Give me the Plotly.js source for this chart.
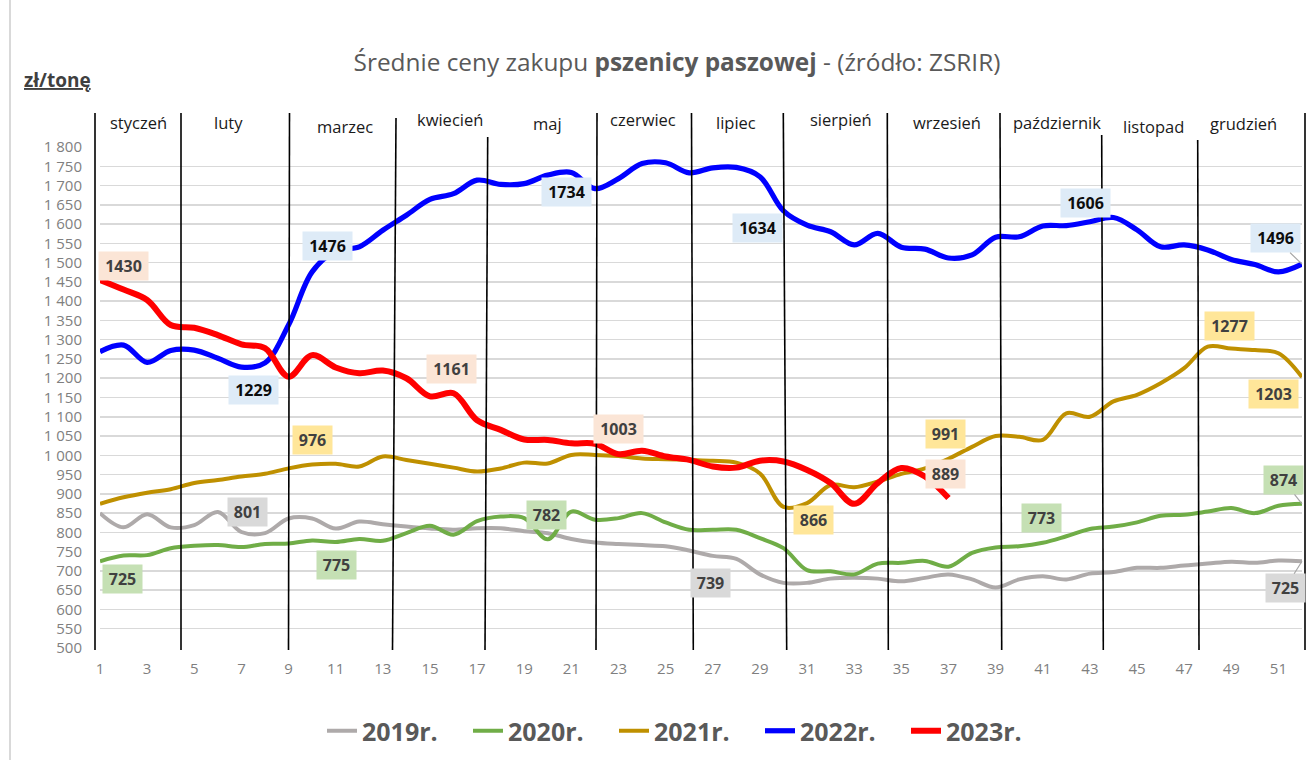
<!DOCTYPE html>
<html>
<head>
<meta charset="utf-8">
<script src="https://cdn.plot.ly/plotly-3.0.1.min.js"></script>
<style>
  html, body { margin: 0; padding: 0; background: #ffffff; }
  #chart { width: 1307px; height: 760px; }
</style>
</head>
<body>
<div id="chart"></div>
<script>
// ---------------- DATA ----------------
const weeks = [1,2,3,4,5,6,7,8,9,10,11,12,13,14,15,16,17,18,19,20,21,22,23,24,25,26,
               27,28,29,30,31,32,33,34,35,36,37,38,39,40,41,42,43,44,45,46,47,48,49,50,51,52];

const seriesNames = ["2019r.", "2020r.", "2021r.", "2022r.", "2023r."];

const y2019 = [850,813,847,813,819,853,801,798,836,836,
               810,828,821,815,810,807,811,811,803,798,
               783,774,770,767,764,753,739,731,691,669,
               669,680,682,680,673,682,691,678,657,678,
               686,678,693,697,708,708,714,719,724,721,
               727,725];

const y2020 = [725,740,741,759,765,767,762,770,771,779,
               775,783,778,798,817,794,829,841,837,782,
               854,833,837,850,826,807,807,807,785,759,
               702,699,691,719,721,726,711,747,761,764,
               773,790,809,815,826,843,846,854,863,850,
               869,874];

const y2021 = [874,891,903,912,928,936,945,952,966,976,
               978,971,997,988,978,968,958,966,981,979,
               1001,1001,998,992,990,988,986,981,953,866,
               876,923,917,932,952,966,991,1022,1050,1048,
               1040,1109,1100,1140,1157,1187,1226,1282,1277,1273,
               1265,1203];

const y2022 = [1269,1286,1241,1272,1273,1252,1229,1240,1338,1476,
               1530,1541,1584,1623,1664,1679,1714,1703,1705,1727,
               1734,1692,1718,1757,1759,1733,1746,1747,1723,1634,
               1597,1580,1546,1576,1540,1535,1512,1520,1566,1567,
               1595,1596,1606,1617,1585,1541,1546,1533,1508,1495,
               1476,1496];

const y2023 = [1455,1430,1403,1338,1331,1312,1288,1278,1204,1260,
               1228,1213,1220,1200,1153,1161,1091,1066,1041,1040,
               1031,1030,1003,1012,997,988,971,968,986,984,
               962,928,874,928,967,945,889];

const months = ["styczeń","luty","marzec","kwiecień","maj","czerwiec",
                "lipiec","sierpień","wrzesień","październik","listopad","grudzień"];

const yTicks = [500,550,600,650,700,750,800,850,900,950,1000,1050,1100,1150,
                1200,1250,1300,1350,1400,1450,1500,1550,1600,1650,1700,1750,1800];
const xTicks = [1,3,5,7,9,11,13,15,17,19,21,23,25,27,29,31,33,35,37,39,41,43,45,47,49,51];

// data labels: series index, week, shown text
const dataLabels = [
  {s:4, w:2,  t:"1430"}, {s:3, w:10, t:"1476"}, {s:3, w:7,  t:"1229"},
  {s:3, w:21, t:"1734"}, {s:3, w:30, t:"1634"}, {s:3, w:43, t:"1606"},
  {s:3, w:52, t:"1496"}, {s:4, w:16, t:"1161"}, {s:4, w:23, t:"1003"},
  {s:4, w:37, t:"889"},  {s:2, w:10, t:"976"},  {s:2, w:30, t:"866"},
  {s:2, w:37, t:"991"},  {s:2, w:49, t:"1277"}, {s:2, w:52, t:"1203"},
  {s:0, w:7,  t:"801"},  {s:0, w:27, t:"739"},  {s:0, w:52, t:"725"},
  {s:1, w:1,  t:"725"},  {s:1, w:11, t:"775"},  {s:1, w:20, t:"782"},
  {s:1, w:41, t:"773"},  {s:1, w:52, t:"874"}
];

// ---------------- STYLE ----------------
const allY = [y2019, y2020, y2021, y2022, y2023];
const lineColors = ["#AEAAAA", "#70AD47", "#BF9000", "#0000FF", "#FF0000"];
const lineWidths = [4, 4, 4, 5.2, 6];
const boxColors  = ["#D9D9D9", "#C5E0B4", "#FFE699", "#DEEBF7", "#FBE5D6"];
const textColors = ["#404040", "#404040", "#404040", "#0d0d0d", "#404040"];

// pixel offsets of label centres relative to their data point
const labelOffsets = {
  "4-2": [0,-24], "3-10": [15,-26], "3-7": [12,23], "3-21": [-5,20], "3-30": [-26,17],
  "3-43": [-4,-19], "3-52": [-27,-26], "4-16": [-2,-24], "4-23": [0,-25], "4-37": [-3,-24],
  "2-10": [0,-25], "2-30": [30,13], "2-37": [-3,-25], "2-49": [-2,-23], "2-52": [-29,17],
  "0-7": [6,-20], "0-27": [-2,27], "0-52": [-17,27], "1-1": [22,18], "1-11": [1,23],
  "1-20": [-1,-24], "1-41": [-1,-25], "1-52": [-19,-24]
};

const traces = allY.map((ys, i) => ({
  type: "scatter",
  mode: "lines",
  name: seriesNames[i],
  x: weeks.slice(0, ys.length),
  y: ys,
  line: {color: lineColors[i], width: lineWidths[i], shape: "spline", smoothing: 1},
  hoverinfo: "x+y+name"
}));

// plot area geometry (px) used for decorations
const PL = 100, PR = 1302, PT = 147, PB = 648;
const px2paperX = px => (px - PL) / (PR - PL);
const px2paperY = py => (PB - py) / (PB - PT);

// month separator lines: [x top, x bottom, y top] in px
const sepLines = [
  [95,95,113],[181,181,113],[289.5,288.5,113],[396,392.5,118],[487.7,485,137],
  [597,596,113],[691.5,693.3,113],[783.3,786.7,113],[887.3,888.3,113],
  [1000,1001.7,113],[1101.7,1103.3,135],[1197.7,1199,140],[1305,1305,113]
];
const monthPos = [[138,122],[228,122],[345,126],[450,119],[547,124],[643,119],
                  [736,122],[841,119],[947,122],[1057,122],[1153,126],[1243,123]];

const shapes = sepLines.map(l => ({
  type: "line", xref: "paper", yref: "paper",
  x0: px2paperX(l[0]), x1: px2paperX(l[1]),
  y0: px2paperY(l[2]), y1: px2paperY(650),
  line: {color: "#000000", width: 1.6}
}));
// outer chart border (left edge)
shapes.push({type: "line", xref: "paper", yref: "paper",
  x0: px2paperX(10), x1: px2paperX(10), y0: px2paperY(762), y1: px2paperY(-2),
  line: {color: "#D9D9D9", width: 2}});

const annotations = [];
months.forEach((m, i) => {
  annotations.push({
    xref: "paper", yref: "paper",
    x: px2paperX(monthPos[i][0]), y: px2paperY(monthPos[i][1]),
    xanchor: "center", yanchor: "middle", showarrow: false,
    text: m, font: {family: "Open Sans, sans-serif", size: 16.5, color: "#1a1a1a"}
  });
});

dataLabels.forEach(d => {
  const ys = allY[d.s];
  const off = labelOffsets[d.s + "-" + d.w];
  const withArrow = (d.w === 52 && d.s !== 2);
  annotations.push({
    xref: "x", yref: "y", x: d.w, y: ys[d.w - 1],
    ax: off[0], ay: off[1], axref: "pixel", ayref: "pixel",
    showarrow: true,
    arrowhead: 0, arrowwidth: 1.2,
    arrowcolor: withArrow ? "#A6A6A6" : "rgba(0,0,0,0)",
    standoff: 0, startstandoff: 0,
    text: "<b>" + d.t + "</b>",
    width: d.t.length * 10 + 9, height: 28,
    bgcolor: boxColors[d.s], borderpad: 0,
    font: {family: "Open Sans, sans-serif", size: 16, color: textColors[d.s]}
  });
});

// unit label
annotations.push({
  xref: "paper", yref: "paper", x: px2paperX(22), y: px2paperY(80),
  xanchor: "left", yanchor: "middle", showarrow: false,
  text: "<b><u>zł/tonę</u></b>",
  font: {family: "Open Sans, sans-serif", size: 19, color: "#404040"}
});

const layout = {
  width: 1307, height: 760,
  paper_bgcolor: "#ffffff", plot_bgcolor: "#ffffff",
  separators: ", ",
  margin: {l: PL, r: 1307 - PR, t: PT, b: 760 - PB, pad: 0},
  title: {
    text: "Średnie ceny zakupu <b>pszenicy paszowej</b> - (źródło: ZSRIR)",
    x: 677 / 1307, xanchor: "center", xref: "container",
    y: 1 - 62 / 760, yanchor: "middle", yref: "container",
    font: {family: "Open Sans, sans-serif", size: 24.4, color: "#595959"}
  },
  xaxis: {
    range: [1, 52], tickmode: "array", tickvals: xTicks, ticktext: xTicks.map(String),
    showgrid: false, zeroline: false, showline: false, ticks: "",
    ticklabelstandoff: 10,
    tickfont: {family: "Open Sans, sans-serif", size: 15, color: "#7F7F7F"}
  },
  yaxis: {
    range: [500, 1800], tickmode: "array", tickvals: yTicks, tickformat: ",d",
    showgrid: true, gridcolor: "#D9D9D9", gridwidth: 1.5,
    zeroline: false, showline: false, ticks: "",
    ticklabelstandoff: 17,
    tickfont: {family: "Open Sans, sans-serif", size: 15, color: "#7F7F7F"}
  },
  showlegend: true,
  legend: {
    orientation: "h", xref: "container", yref: "container",
    x: 322 / 1307, xanchor: "left", y: 1 - 731 / 760, yanchor: "middle",
    entrywidth: 101, entrywidthmode: "pixels",
    font: {family: "Open Sans, sans-serif", size: 25, color: "#595959", weight: "bold"},
    bgcolor: "rgba(0,0,0,0)", borderwidth: 0
  },
  shapes: shapes,
  annotations: annotations
};

Plotly.newPlot("chart", traces, layout, {displayModeBar: false, staticPlot: true});
</script>
</body>
</html>
